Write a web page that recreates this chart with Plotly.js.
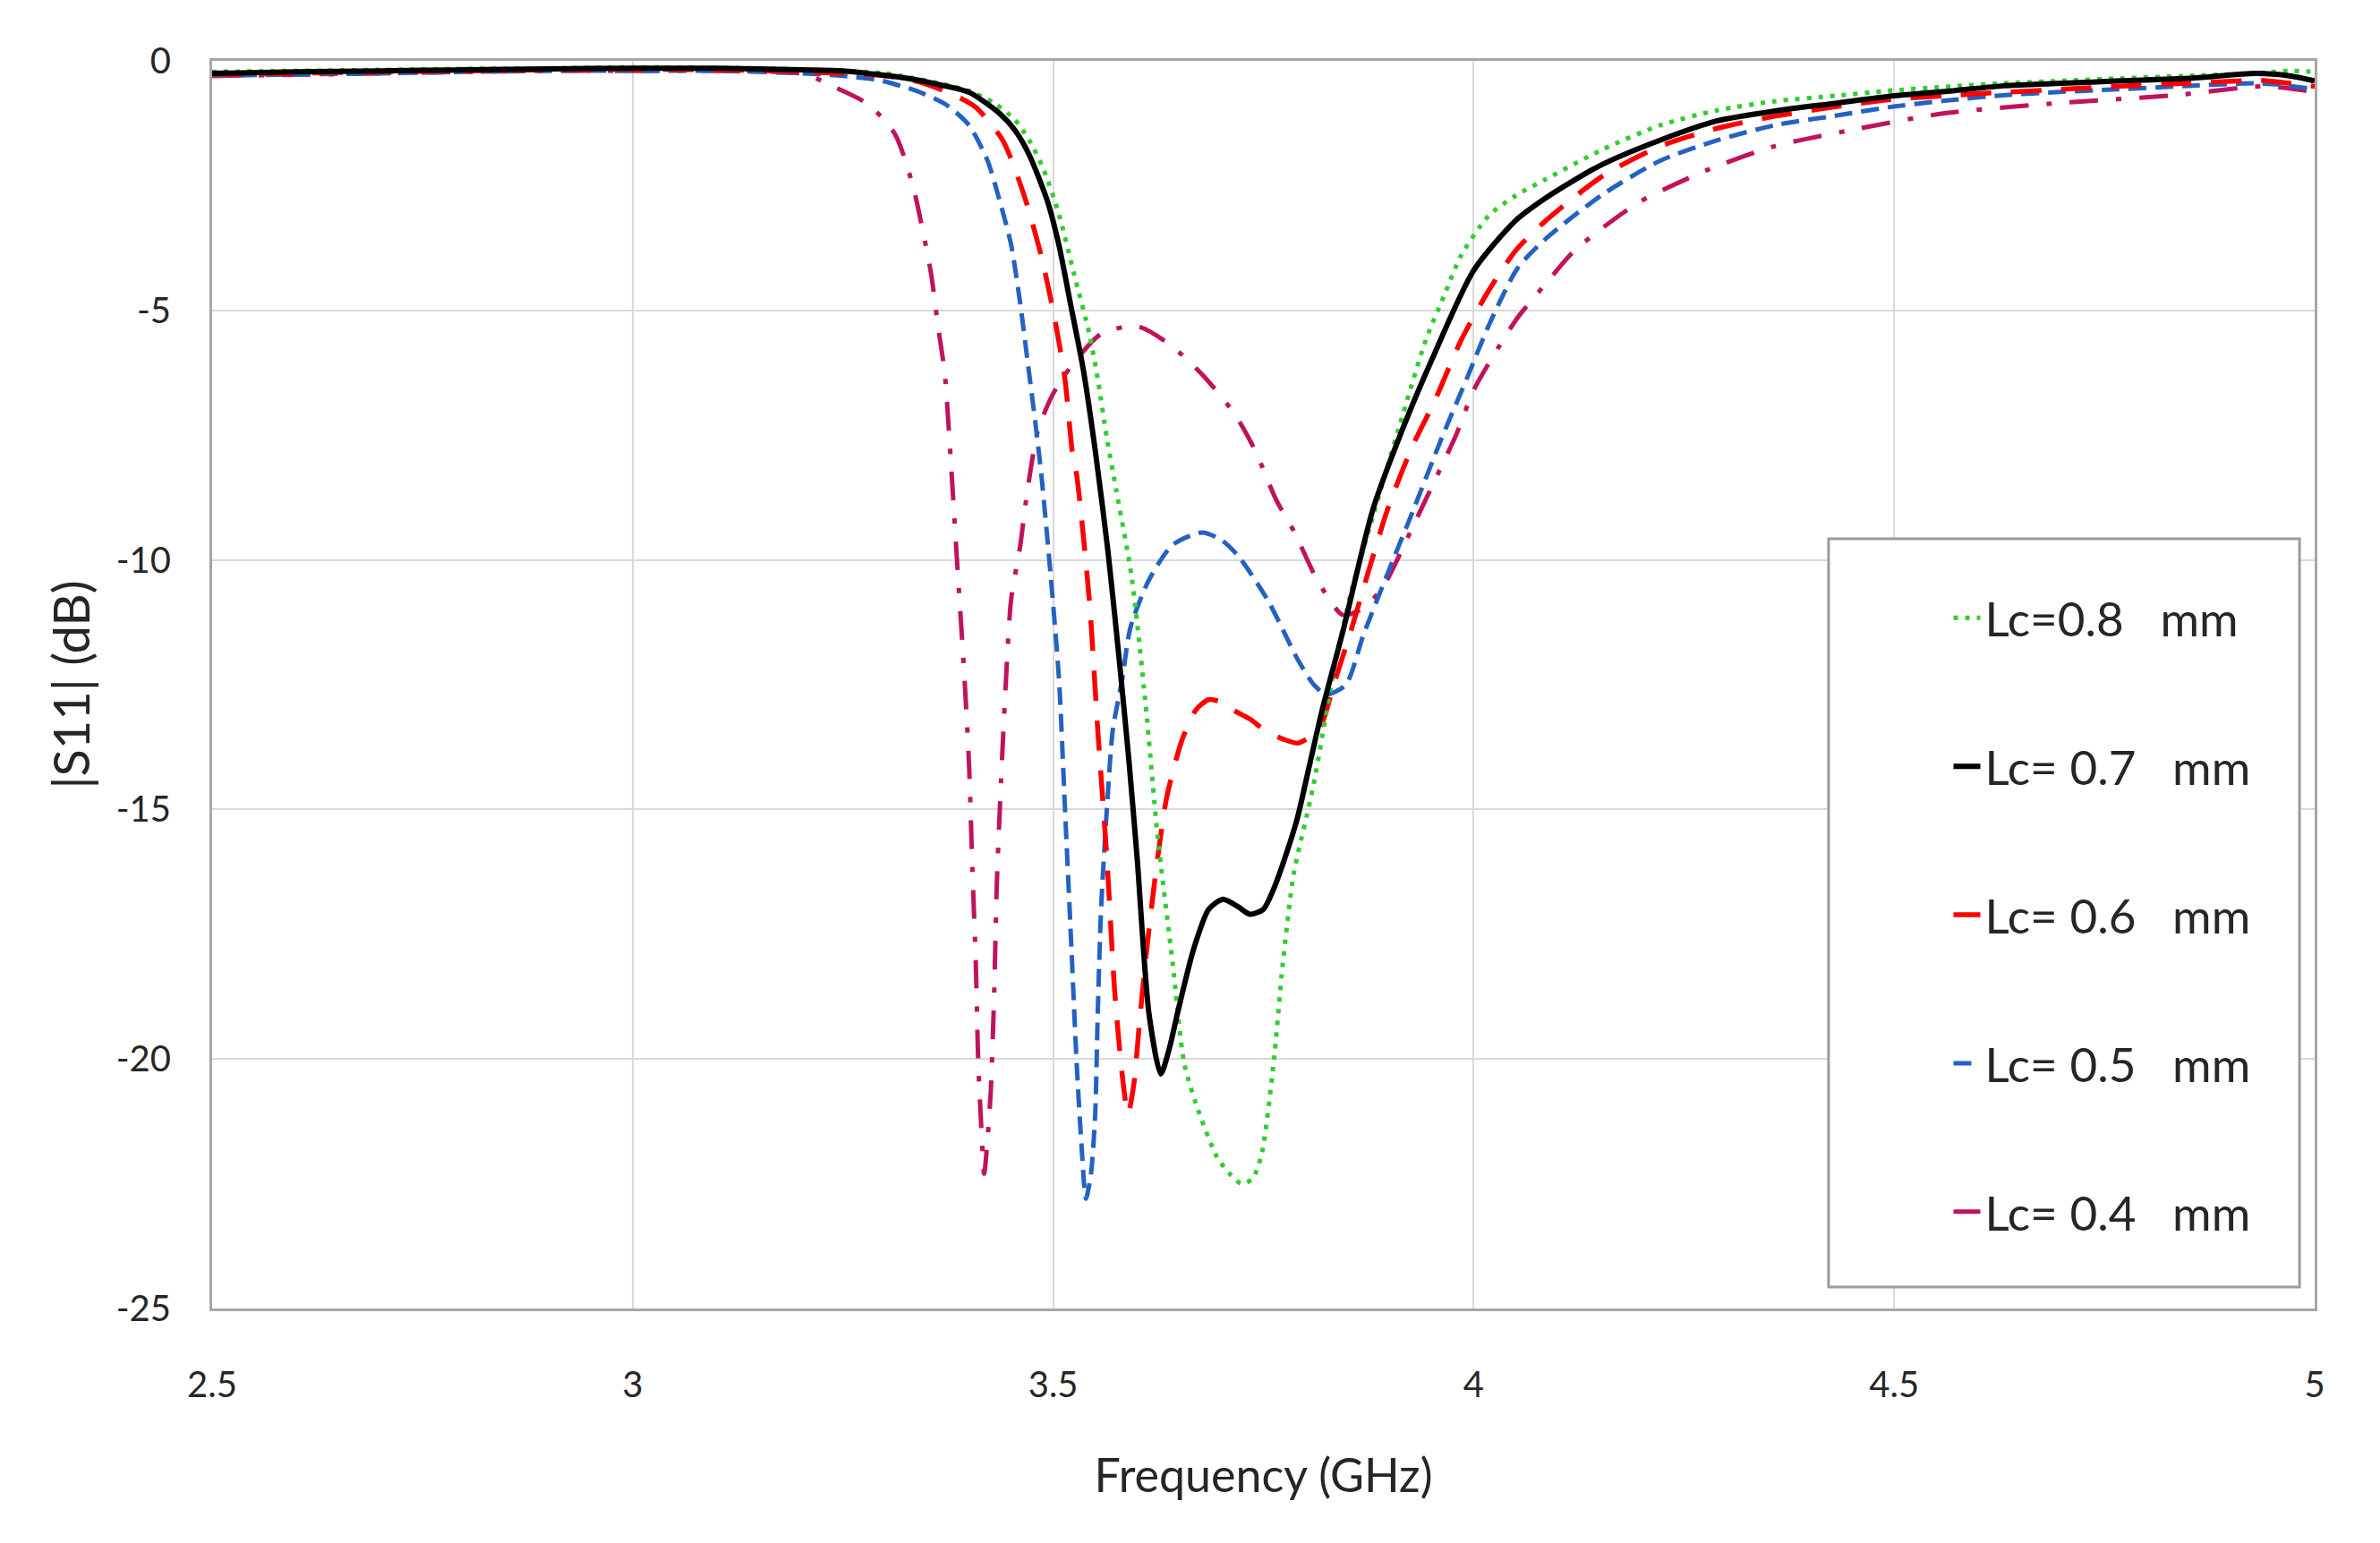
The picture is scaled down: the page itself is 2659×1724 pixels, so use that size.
<!DOCTYPE html>
<html>
<head>
<meta charset="utf-8">
<script src="https://cdn.plot.ly/plotly-3.0.1.min.js"></script>
<style>html,body{margin:0;padding:0;background:#fff;}#chart{width:2659px;height:1724px;}</style>
</head>
<body>
<div id="chart"></div>
<script>
// ---- Data (|S11| in dB vs frequency in GHz) ----
const seriesNames = ['Lc=0.8\u00a0\u00a0\u00a0mm', 'Lc=\u00a00.7\u00a0\u00a0\u00a0mm', 'Lc=\u00a00.6\u00a0\u00a0\u00a0mm', 'Lc=\u00a00.5\u00a0\u00a0\u00a0mm', 'Lc=\u00a00.4\u00a0\u00a0\u00a0mm'];

const freq08 = [2.5, 2.6, 2.7, 2.8, 2.9, 3.0, 3.1, 3.2, 3.3, 3.365, 3.4, 3.43, 3.454, 3.472, 3.489, 3.507, 3.525, 3.543, 3.553, 3.564, 3.575, 3.593, 3.61, 3.624, 3.642, 3.656, 3.674, 3.695, 3.71, 3.724, 3.737, 3.748, 3.762, 3.773, 3.786, 3.809, 3.834, 3.855, 3.883, 3.911, 3.943, 3.965, 3.985, 4.018, 4.05, 4.086, 4.154, 4.222, 4.29, 4.358, 4.43, 4.493, 4.56, 4.63, 4.7, 4.77, 4.85, 4.93, 4.97, 5.0];
const s11_08 = [-0.22, -0.2, -0.18, -0.16, -0.15, -0.13, -0.14, -0.17, -0.25, -0.45, -0.6, -0.85, -1.17, -1.6, -2.19, -3.08, -4.28, -5.47, -6.37, -7.57, -8.6, -10.3, -12.9, -15.5, -18.06, -20.1, -21.1, -21.97, -22.3, -22.5, -22.4, -21.9, -20.1, -18.1, -16.3, -14.56, -12.2, -10.6, -8.97, -7.36, -5.6, -4.7, -3.9, -3.1, -2.7, -2.37, -1.77, -1.29, -0.99, -0.81, -0.7, -0.6, -0.52, -0.45, -0.4, -0.35, -0.3, -0.25, -0.2, -0.22];

const freq07 = [2.5, 2.6, 2.7, 2.8, 2.9, 3.0, 3.1, 3.2, 3.25, 3.29, 3.33, 3.365, 3.4, 3.436, 3.455, 3.472, 3.493, 3.507, 3.521, 3.536, 3.55, 3.565, 3.578, 3.59, 3.6, 3.614, 3.628, 3.638, 3.649, 3.667, 3.685, 3.702, 3.72, 3.734, 3.75, 3.762, 3.775, 3.79, 3.805, 3.82, 3.845, 3.88, 3.915, 3.95, 4.0, 4.05, 4.09, 4.15, 4.22, 4.29, 4.36, 4.43, 4.5, 4.57, 4.63, 4.7, 4.77, 4.85, 4.93, 4.97, 5.0];
const s11_07 = [-0.25, -0.22, -0.2, -0.18, -0.16, -0.15, -0.15, -0.18, -0.2, -0.27, -0.36, -0.48, -0.63, -1.05, -1.4, -1.9, -2.8, -3.7, -4.9, -6.2, -7.8, -9.8, -11.9, -14.0, -16.0, -19.1, -20.3, -19.8, -19.0, -17.8, -17.0, -16.8, -16.95, -17.1, -17.0, -16.6, -16.0, -15.2, -14.1, -13.0, -11.4, -9.0, -7.4, -6.0, -4.2, -3.2, -2.7, -2.1, -1.6, -1.2, -1.0, -0.85, -0.7, -0.6, -0.5, -0.45, -0.4, -0.35, -0.25, -0.3, -0.4];

const freq06 = [2.5, 2.6, 2.7, 2.8, 2.9, 3.0, 3.1, 3.2, 3.3, 3.34, 3.383, 3.408, 3.44, 3.465, 3.486, 3.502, 3.514, 3.523, 3.528, 3.543, 3.553, 3.564, 3.573, 3.582, 3.589, 3.596, 3.603, 3.612, 3.624, 3.635, 3.653, 3.67, 3.685, 3.70, 3.713, 3.735, 3.752, 3.775, 3.791, 3.805, 3.819, 3.834, 3.855, 3.876, 3.898, 3.926, 3.954, 3.985, 4.018, 4.05, 4.086, 4.154, 4.222, 4.29, 4.358, 4.43, 4.493, 4.56, 4.629, 4.7, 4.765, 4.85, 4.935, 4.97, 5.0];
const s11_06 = [-0.28, -0.25, -0.22, -0.2, -0.18, -0.17, -0.18, -0.22, -0.3, -0.42, -0.69, -0.93, -1.59, -2.67, -3.92, -5.18, -6.37, -7.87, -8.3, -10.8, -13.4, -16.0, -18.6, -20.3, -21.1, -20.5, -19.2, -17.7, -16.0, -14.76, -13.62, -13.0, -12.8, -12.85, -13.0, -13.2, -13.42, -13.6, -13.67, -13.55, -13.3, -12.48, -11.37, -10.17, -8.97, -7.77, -6.8, -5.6, -4.6, -3.8, -3.2, -2.3, -1.71, -1.35, -1.11, -0.92, -0.78, -0.7, -0.63, -0.57, -0.51, -0.45, -0.39, -0.45, -0.51];

const freq05 = [2.5, 2.6, 2.7, 2.8, 2.9, 3.0, 3.1, 3.2, 3.25, 3.294, 3.337, 3.372, 3.40, 3.422, 3.436, 3.45, 3.461, 3.47, 3.479, 3.486, 3.497, 3.507, 3.514, 3.521, 3.528, 3.534, 3.539, 3.545, 3.55, 3.553, 3.557, 3.564, 3.571, 3.582, 3.592, 3.614, 3.642, 3.677, 3.70, 3.72, 3.755, 3.791, 3.81, 3.825, 3.848, 3.869, 3.897, 3.929, 3.961, 3.993, 4.018, 4.052, 4.086, 4.154, 4.222, 4.29, 4.358, 4.43, 4.493, 4.56, 4.629, 4.7, 4.765, 4.85, 4.935, 4.97, 5.0];
const s11_05 = [-0.3, -0.27, -0.25, -0.22, -0.2, -0.2, -0.2, -0.25, -0.3, -0.39, -0.6, -0.87, -1.29, -2.0, -2.78, -3.68, -4.88, -6.07, -7.27, -8.3, -10.3, -12.4, -14.96, -17.5, -20.1, -21.8, -22.8, -22.3, -21.1, -19.1, -17.0, -14.96, -13.4, -12.4, -11.35, -10.4, -9.7, -9.45, -9.6, -9.92, -10.8, -12.0, -12.5, -12.7, -12.5, -11.5, -10.3, -8.97, -7.6, -6.32, -5.3, -4.16, -3.56, -2.67, -2.0, -1.59, -1.29, -1.1, -0.93, -0.8, -0.69, -0.62, -0.57, -0.5, -0.45, -0.5, -0.57];

const freq04 = [2.5, 2.6, 2.7, 2.8, 2.9, 3.0, 3.1, 3.17, 3.206, 3.238, 3.28, 3.312, 3.333, 3.344, 3.355, 3.363, 3.371, 3.379, 3.386, 3.394, 3.40, 3.404, 3.408, 3.411, 3.415, 3.418, 3.422, 3.426, 3.43, 3.433, 3.438, 3.443, 3.45, 3.461, 3.468, 3.482, 3.5, 3.521, 3.557, 3.6, 3.64, 3.678, 3.716, 3.74, 3.765, 3.787, 3.814, 3.844, 3.865, 3.89, 3.93, 3.954, 3.979, 4.0, 4.022, 4.052, 4.086, 4.12, 4.195, 4.276, 4.358, 4.46, 4.56, 4.7, 4.833, 4.935, 4.97, 5.0];
const s11_04 = [-0.3, -0.28, -0.25, -0.22, -0.2, -0.2, -0.2, -0.22, -0.27, -0.51, -0.87, -1.47, -2.49, -3.32, -4.28, -5.3, -6.25, -8.2, -10.1, -12.2, -14.1, -16.2, -18.06, -20.1, -21.5, -22.3, -21.6, -20.6, -18.6, -16.5, -14.45, -12.7, -10.8, -9.7, -8.78, -7.4, -6.67, -6.13, -5.47, -5.32, -5.7, -6.3, -7.08, -7.8, -8.79, -9.45, -10.4, -11.1, -11.0, -10.6, -9.25, -8.4, -7.5, -6.6, -5.95, -5.15, -4.46, -3.8, -2.85, -2.2, -1.71, -1.35, -1.05, -0.84, -0.69, -0.51, -0.55, -0.63];

const xTickValues = [2.5, 3, 3.5, 4, 4.5, 5];
const xTickLabels = ['2.5', '3', '3.5', '4', '4.5', '5'];
const yTickValues = [0, -5, -10, -15, -20, -25];
const yTickLabels = ['0', '-5', '-10', '-15', '-20', '-25'];

// ---- Styles ----
const FONT = 'Lato, "Open Sans", sans-serif';
function mk(x, y, name, color, width, dash, rank) {
  return {
    type: 'scatter', mode: 'lines', x: x, y: y, name: name,
    legendgroup: 'g' + rank, legendrank: rank,
    line: {color: color, width: width, dash: dash, shape: 'spline', smoothing: 0.7},
    hoverinfo: 'x+y+name'
  };
}

const traces = [
  mk(freq04, s11_04, seriesNames[4], '#c0135e', 5, '32px,20px,6px,20px', 5),
  mk(freq05, s11_05, seriesNames[3], '#2462c2', 5, '20px,10px', 4),
  mk(freq06, s11_06, seriesNames[2], '#ff0000', 5.5, '34px,22px', 3),
  mk(freq08, s11_08, seriesNames[0], '#33cc33', 5, '5px,8px', 1),
  mk(freq07, s11_07, seriesNames[1], '#000000', 6, 'solid', 2)
];

const axisCommon = {
  showgrid: true, gridcolor: '#d9d9d9', gridwidth: 2,
  showline: true, linecolor: '#a6a6a6', linewidth: 3, mirror: true,
  zeroline: false, ticks: '', tickmode: 'array',
  tickfont: {family: FONT, size: 40, color: '#262626'}
};

const layout = {
  width: 2659, height: 1724,
  paper_bgcolor: '#ffffff', plot_bgcolor: '#ffffff',
  margin: {l: 237, r: 73, t: 68, b: 262, pad: 0},
  font: {family: FONT, color: '#262626'},
  showlegend: true,
  xaxis: Object.assign({}, axisCommon, {
    range: [2.5, 5], tickvals: xTickValues, ticktext: xTickLabels,
    ticklabelstandoff: 48,
    title: {text: 'Frequency (GHz)', font: {family: FONT, size: 52, color: '#262626'}, standoff: 62}
  }),
  yaxis: Object.assign({}, axisCommon, {
    range: [-25, 0], tickvals: yTickValues, ticktext: yTickLabels,
    ticklabelstandoff: 35,
    title: {text: '|S11| (dB)', font: {family: FONT, size: 56, color: '#262626'}, standoff: 12}
  }),
  legend: {
    x: 0.8261, y: 0.583, xanchor: 'left', yanchor: 'top',
    bgcolor: 'rgba(0,0,0,0)', borderwidth: 0,
    font: {family: FONT, size: 53, color: '#262626'},
    tracegroupgap: 94, itemclick: false, itemdoubleclick: false
  },
  shapes: [{
    type: 'rect', xref: 'paper', yref: 'paper',
    x0: 0.7688, x1: 0.9928, y0: 0.0172, y1: 0.617,
    line: {color: '#9a9a9a', width: 3}, fillcolor: '#ffffff', layer: 'above'
  }]
};

Plotly.newPlot('chart', traces, layout, {displayModeBar: false, staticPlot: true});
</script>
</body>
</html>
